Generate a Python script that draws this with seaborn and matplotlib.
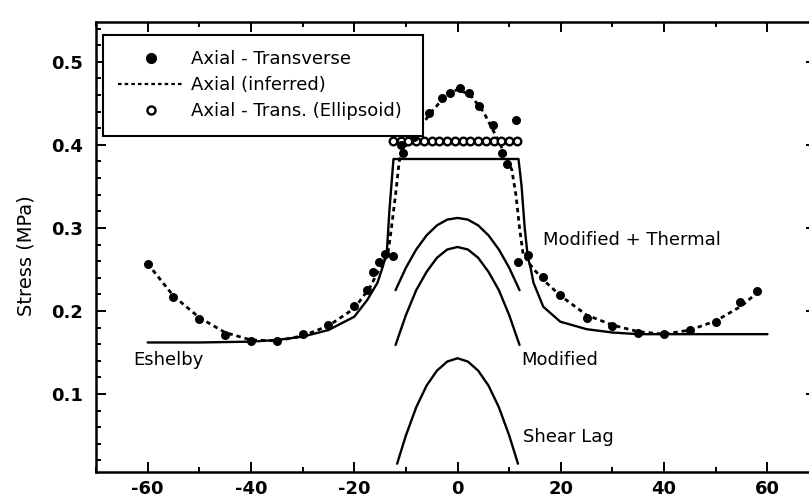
import matplotlib
matplotlib.use("Agg")
import matplotlib.pyplot as plt
from matplotlib.lines import Line2D
from matplotlib.ticker import MultipleLocator
import seaborn as sns
import pandas as pd

# ---- data ----
at_x = [-60, -55, -50, -45, -40, -35, -30, -25, -20, -17.5, -16.3, -15.3, -14, -12.5,
        -11, -10.5, -8.5, -5.5, -3, -1.5, 0.5, 2.3, 4.2, 6.8, 8.7, 9.5, 11.4,
        11.8, 13.7, 16.6, 19.9, 25, 30, 35, 40, 45, 50, 54.7, 58]
at_y = [0.257, 0.217, 0.190, 0.171, 0.164, 0.164, 0.172, 0.183, 0.206, 0.225, 0.247, 0.259, 0.268, 0.266,
        0.400, 0.390, 0.410, 0.438, 0.457, 0.462, 0.469, 0.463, 0.447, 0.424, 0.390, 0.377, 0.430,
        0.259, 0.267, 0.241, 0.219, 0.192, 0.182, 0.174, 0.172, 0.177, 0.187, 0.211, 0.224]

inf_x = [-60, -55, -50, -45, -40, -35, -30, -25, -20, -17, -15, -13.5, -12.8, -12, -11.3,
         -10.5, -8, -5, -2.5, 0, 2.5, 5, 7.5, 9.5, 10.5, 11.3, 12, 12.7,
         14.5, 17, 20, 25, 30, 35, 40, 45, 50, 55, 58]
inf_y = [0.257, 0.218, 0.192, 0.174, 0.165, 0.164, 0.170, 0.182, 0.203, 0.228, 0.252, 0.268, 0.300, 0.340, 0.380,
         0.395, 0.415, 0.440, 0.458, 0.467, 0.460, 0.440, 0.410, 0.385, 0.370, 0.340, 0.300, 0.268,
         0.252, 0.235, 0.218, 0.195, 0.183, 0.175, 0.172, 0.177, 0.188, 0.206, 0.222]

ell_x = [-12.5, -11, -9.5, -8, -6.5, -5, -3.5, -2, -0.5, 1, 2.5, 4, 5.5, 7, 8.5, 10, 11.5]
ell_y = [0.405] * len(ell_x)

esh_x = [-60, -50, -40, -35, -30, -25, -20, -17.5, -15.5, -14.5, -13.7, -13.2, -12.7, -12.4,
         11.8, 12.4, 13.0, 13.6, 14.2, 14.7, 16.6, 19.9, 25, 30, 35, 45, 60]
esh_y = [0.162, 0.162, 0.163, 0.165, 0.169, 0.177, 0.193, 0.213, 0.234, 0.253, 0.270, 0.320, 0.360, 0.383,
         0.383, 0.350, 0.300, 0.265, 0.250, 0.234, 0.205, 0.187, 0.178, 0.174, 0.172, 0.172, 0.172]

arch_x = [-12, -10, -8, -6, -4, -2, 0, 2, 4, 6, 8, 10, 12]
mt_y = [0.225, 0.252, 0.274, 0.291, 0.303, 0.310, 0.312, 0.310, 0.303, 0.291, 0.274, 0.252, 0.225]
mod_y = [0.159, 0.195, 0.225, 0.247, 0.264, 0.274, 0.277, 0.274, 0.264, 0.247, 0.225, 0.195, 0.159]
sl_x = [-11.7, -10, -8, -6, -4, -2, 0, 2, 4, 6, 8, 10, 11.7]
sl_y = [0.016, 0.050, 0.084, 0.110, 0.128, 0.139, 0.143, 0.139, 0.128, 0.110, 0.084, 0.050, 0.016]

legend_labels = ["Axial - Transverse", "Axial (inferred)", "Axial - Trans. (Ellipsoid)"]
x_ticks = [-60, -40, -20, 0, 20, 40, 60]
y_ticks = [0.1, 0.2, 0.3, 0.4, 0.5]

# ---- plotting ----
sns.set_style("ticks")
plt.rcParams["font.family"] = ["DejaVu Sans"]
plt.rcParams["text.color"] = "black"
plt.rcParams["axes.labelcolor"] = "black"
plt.rcParams["xtick.color"] = "black"
plt.rcParams["ytick.color"] = "black"
plt.rcParams["legend.labelcolor"] = "black"

W, H = 809, 501
fig = plt.figure(figsize=(W / 100, H / 100), dpi=100)
ax_l, ax_r, ax_t, ax_b = 96, 816, 22, 472
ax = fig.add_axes([ax_l / W, (H - ax_b) / H, (ax_r - ax_l) / W, (ax_b - ax_t) / H])

lw = 1.7
dash = (0, (1.6, 1.4))
sns.lineplot(x=esh_x, y=esh_y, ax=ax, color="black", lw=lw, sort=False, estimator=None)
sns.lineplot(x=arch_x, y=mt_y, ax=ax, color="black", lw=lw, sort=False, estimator=None)
sns.lineplot(x=arch_x, y=mod_y, ax=ax, color="black", lw=lw, sort=False, estimator=None)
sns.lineplot(x=sl_x, y=sl_y, ax=ax, color="black", lw=lw, sort=False, estimator=None)
sns.lineplot(x=inf_x, y=inf_y, ax=ax, color="black", lw=2.0, sort=False, estimator=None,
             linestyle=dash)
sns.scatterplot(x=ell_x, y=ell_y, ax=ax, s=30, facecolor="white", edgecolor="black",
                linewidth=1.7, zorder=4)
sns.scatterplot(x=at_x, y=at_y, ax=ax, s=42, color="black", edgecolor="black", linewidth=0, zorder=5)

ax.set_xlim(-70, 69.4)
ax.set_ylim(0.006, 0.548)
ax.set_xticks(x_ticks)
ax.set_yticks(y_ticks)
ax.set_xticklabels([str(t) for t in x_ticks])
ax.set_yticklabels([f"{t:.1f}" for t in y_ticks])
ax.xaxis.set_minor_locator(MultipleLocator(10))
ax.yaxis.set_minor_locator(MultipleLocator(0.02))
ax.tick_params(which="both", direction="in", top=True, right=True, color="black",
               labelcolor="black", width=1.4)
ax.tick_params(which="major", length=7, labelsize=13, pad=6)
ax.tick_params(which="minor", length=3.5)
ax.tick_params(axis="y", which="major", pad=9)
for lab in ax.get_xticklabels() + ax.get_yticklabels():
    lab.set_fontweight("bold")
for sp in ax.spines.values():
    sp.set_linewidth(1.8)
    sp.set_color("black")

ax.set_ylabel("Stress (MPa)", fontsize=14, color="black")
ax.yaxis.set_label_coords(-0.084, 0.48)

tk = dict(fontsize=13, color="black")
ax.text(-62.8, 0.141, "Eshelby", ha="left", va="center", **tk)
ax.text(12.3, 0.141, "Modified", ha="left", va="center", **tk)
ax.text(12.6, 0.048, "Shear Lag", ha="left", va="center", **tk)
ax.text(16.6, 0.286, "Modified + Thermal", ha="left", va="center", **tk)

handles = [
    Line2D([], [], marker="o", ls="none", color="black", markersize=7),
    Line2D([], [], ls=dash, color="black", lw=1.6),
    Line2D([], [], marker="o", ls="none", markerfacecolor="white", markeredgecolor="black",
           markeredgewidth=1.7, markersize=5.8),
]
axw, axh = ax_r - ax_l, ax_b - ax_t
bx0 = (103 - ax_l) / axw
bw = (423 - 103) / axw
btop = 1 - (35 - ax_t) / axh
bbot = 1 - (132 - ax_t) / axh
leg = ax.legend(handles, legend_labels, loc="upper left",
                bbox_to_anchor=(bx0, bbot, bw, btop - bbot), mode="expand",
                borderaxespad=0, fancybox=False, edgecolor="black", framealpha=1,
                fontsize=13, handlelength=3.6, handletextpad=0.4, labelspacing=0.44,
                borderpad=0.85, labelcolor="black")
leg.get_frame().set_linewidth(1.5)

fig.savefig("out.png", dpi=100)
